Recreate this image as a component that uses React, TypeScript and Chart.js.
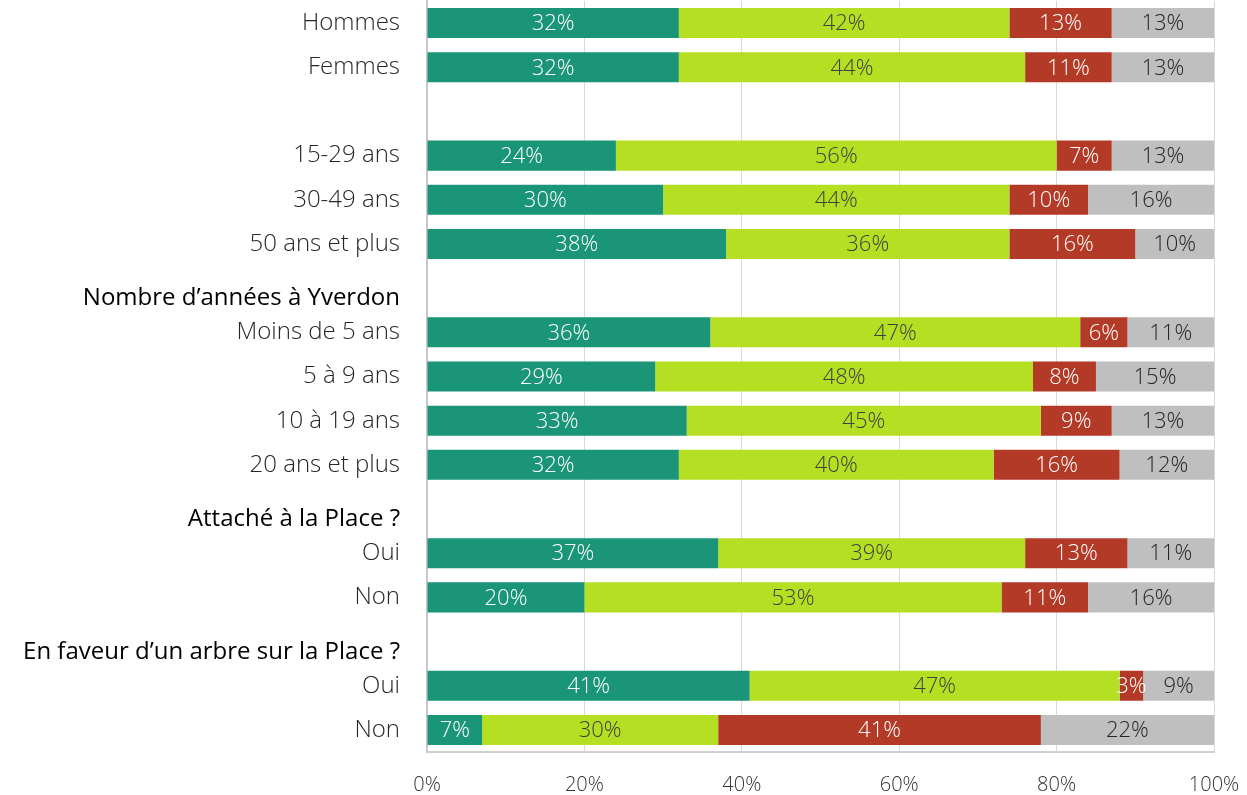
import React, { useEffect, useRef } from "react";
import { Chart, registerables } from "chart.js";

Chart.register(...registerables);

const categories = [
  "Hommes",
  "Femmes",
  "",
  "15-29 ans",
  "30-49 ans",
  "50 ans et plus",
  "Nombre d’années à Yverdon",
  "Moins de 5 ans",
  "5 à 9 ans",
  "10 à 19 ans",
  "20 ans et plus",
  "Attaché à la Place ?",
  "Oui",
  "Non",
  "En faveur d’un arbre sur la Place ?",
  "Oui",
  "Non",
];
const headerIndices = [6, 11, 14];

const seriesTeal = [32, 32, null, 24, 30, 38, null, 36, 29, 33, 32, null, 37, 20, null, 41, 7];
const seriesLime = [42, 44, null, 56, 44, 36, null, 47, 48, 45, 40, null, 39, 53, null, 47, 30];
const seriesRed = [13, 11, null, 7, 10, 16, null, 6, 8, 9, 16, null, 13, 11, null, 3, 41];
const seriesGray = [13, 13, null, 13, 16, 10, null, 11, 15, 13, 12, null, 11, 16, null, 9, 22];

const xTicks = [0, 20, 40, 60, 80, 100];

const FONT = "'Open Sans', Lato, sans-serif";

const labelColors = ["#ffffff", "#404040", "#ffffff", "#262626"];

const dataLabelPlugin = {
  id: "dataLabels",
  afterDatasetsDraw(chart: any) {
    const ctx = chart.ctx;
    ctx.save();
    ctx.font = `300 22px ${FONT}`;
    ctx.textAlign = "center";
    ctx.textBaseline = "middle";
    chart.data.datasets.forEach((ds: any, di: number) => {
      const meta = chart.getDatasetMeta(di);
      meta.data.forEach((el: any, i: number) => {
        const v = ds.data[i];
        if (v === null || v === undefined) return;
        const p = el.getProps(["x", "y", "base"], true);
        ctx.fillStyle = labelColors[di];
        ctx.fillText(`${v}%`, (p.x + p.base) / 2, p.y + 1);
      });
    });
    ctx.restore();
  },
};

export default function App() {
  const ref = useRef<HTMLCanvasElement | null>(null);
  useEffect(() => {
    if (!ref.current) return;
    const labels = categories.map((c, i) => (headerIndices.includes(i) ? ["", c] : c));
    const mk = (label: string, data: (number | null)[], color: string) => ({
      label,
      data,
      backgroundColor: color,
      borderWidth: 0,
      barPercentage: 0.68,
      categoryPercentage: 1,
    });
    const chart = new Chart(ref.current, {
      type: "bar",
      data: {
        labels,
        datasets: [
          mk("A", seriesTeal, "#1a9577"),
          mk("B", seriesLime, "#b5df22"),
          mk("C", seriesRed, "#b33a27"),
          mk("D", seriesGray, "#bfbfbf"),
        ],
      },
      options: {
        indexAxis: "y",
        responsive: false,
        animation: false,
        layout: { padding: { left: 0, right: 33, top: 1, bottom: 0 } },
        plugins: { legend: { display: false }, tooltip: { enabled: false } },
        scales: {
          x: {
            stacked: true,
            min: 0,
            max: 100,
            afterBuildTicks: (s: any) => {
              s.ticks = xTicks.map((v) => ({ value: v }));
            },
            ticks: {
              callback: (v: any) => `${v}%`,
              color: "#333333",
              font: { family: FONT, size: 20, weight: 300 },
              padding: 21,
              maxRotation: 0,
            },
            grid: { color: "#d9d9d9", drawTicks: false, lineWidth: 1 },
            border: { color: "#d0d0d0", width: 2 },
            afterFit: (s: any) => {
              s.height = 795 - 752;
              s.paddingLeft = 0;
              s.paddingRight = 0;
            },
          },
          y: {
            stacked: true,
            ticks: {
              autoSkip: false,
              padding: 27,
              color: (c: any) => (headerIndices.includes(c.index) ? "#000000" : "#262626"),
              font: (c: any) =>
                headerIndices.includes(c.index)
                  ? { family: FONT, size: 24, weight: 400, lineHeight: 0.85 }
                  : { family: FONT, size: 24, weight: 300 },
            },
            grid: { display: false, drawTicks: false },
            border: { color: "#c8c8c8", width: 2 },
            afterFit: (s: any) => {
              s.width = 427;
              s.paddingTop = 0;
              s.paddingBottom = 0;
            },
          },
        },
      },
      plugins: [dataLabelPlugin],
    });
    return () => chart.destroy();
  }, []);
  return (
    <div style={{ position: "fixed", left: 0, top: 0, width: 1247, height: 795, background: "#fff" }}>
      <canvas ref={ref} width={1247} height={795} />
    </div>
  );
}
